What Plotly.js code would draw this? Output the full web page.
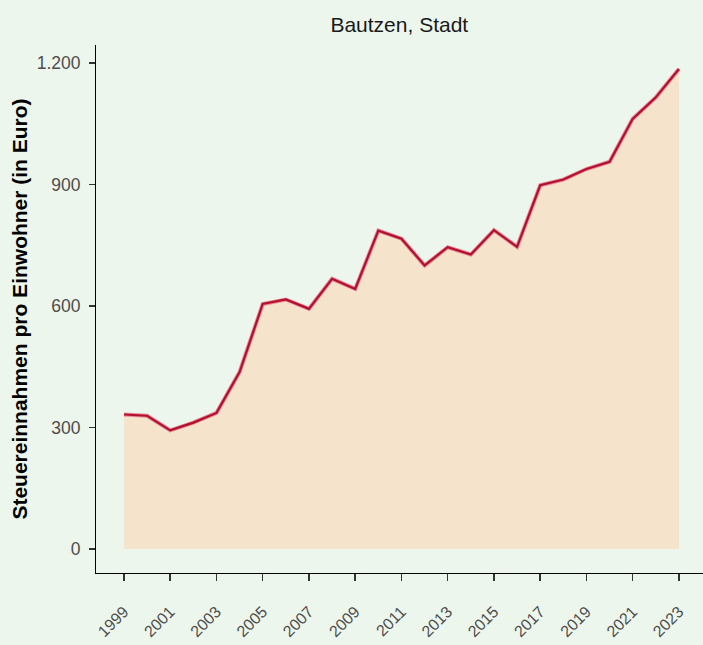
<!DOCTYPE html>
<html>
<head>
<meta charset="utf-8">
<script src="https://cdn.plot.ly/plotly-3.0.1.min.js"></script>
<style>
  html, body { margin: 0; padding: 0; background: #EDF6EC; }
  #chart { width: 703px; height: 645px; }
</style>
</head>
<body>
<div id="chart"></div>
<script>
const years = [1999, 2000, 2001, 2002, 2003, 2004, 2005, 2006, 2007, 2008, 2009, 2010, 2011,
               2012, 2013, 2014, 2015, 2016, 2017, 2018, 2019, 2020, 2021, 2022, 2023];
const taxPerCapita = [332, 329, 293, 312, 336, 437, 605, 616, 593, 667, 642, 786, 766,
                      700, 745, 727, 787, 746, 898, 912, 938, 956, 1062, 1115, 1185];
const xTickVals = [1999, 2001, 2003, 2005, 2007, 2009, 2011, 2013, 2015, 2017, 2019, 2021, 2023];
const yTickVals = [0, 300, 600, 900, 1200];
const yTickText = ['0', '300', '600', '900', '1.200'];
const chartTitle = 'Bautzen, Stadt';
const yTitle = 'Steuereinnahmen pro Einwohner (in Euro)';

const traces = [
  {
    x: years, y: taxPerCapita, type: 'scatter', mode: 'lines',
    fill: 'tozeroy', fillcolor: '#F5E3CB',
    line: { color: '#E58A98', width: 4 },
    hoverinfo: 'skip', showlegend: false
  },
  {
    x: years, y: taxPerCapita, type: 'scatter', mode: 'lines',
    line: { color: '#B3102E', width: 2.2 },
    showlegend: false
  }
];

const layout = {
  width: 703, height: 645,
  paper_bgcolor: '#EDF6EC', plot_bgcolor: '#EDF6EC',
  margin: { l: 96, r: 0, t: 45, b: 72 },
  font: { family: 'Liberation Sans, Arial, sans-serif', color: '#4D4D4D' },
  title: {
    text: chartTitle, x: 0.568, xanchor: 'center', y: 0.962, yanchor: 'middle',
    font: { size: 21, color: '#1A1A1A', family: 'Liberation Sans, Arial, sans-serif' }
  },
  xaxis: {
    range: [1997.79, 2024.04],
    tickmode: 'array', tickvals: xTickVals,
    tickangle: -45,
    tickfont: { size: 16, color: '#4D4D4D' },
    ticks: 'outside', ticklen: 7, tickwidth: 1.5, tickcolor: '#333333',
    ticklabelstandoff: 15,
    showline: true, linecolor: '#000000', linewidth: 1,
    showgrid: false, zeroline: false, fixedrange: true
  },
  yaxis: {
    range: [-59.25, 1244.25],
    tickmode: 'array', tickvals: yTickVals, ticktext: yTickText,
    tickfont: { size: 17.5, color: '#4D4D4D' },
    ticks: 'outside', ticklen: 6, tickwidth: 1.5, tickcolor: '#333333',
    ticklabelstandoff: 5,
    showline: true, linecolor: '#000000', linewidth: 1,
    showgrid: false, zeroline: false, fixedrange: true,
    title: {
      text: yTitle, standoff: 3,
      font: { size: 21, color: '#000000', family: 'Liberation Sans, Arial, sans-serif', weight: 'bold' }
    }
  }
};

Plotly.newPlot('chart', traces, layout, { displayModeBar: false, staticPlot: true });
</script>
</body>
</html>
